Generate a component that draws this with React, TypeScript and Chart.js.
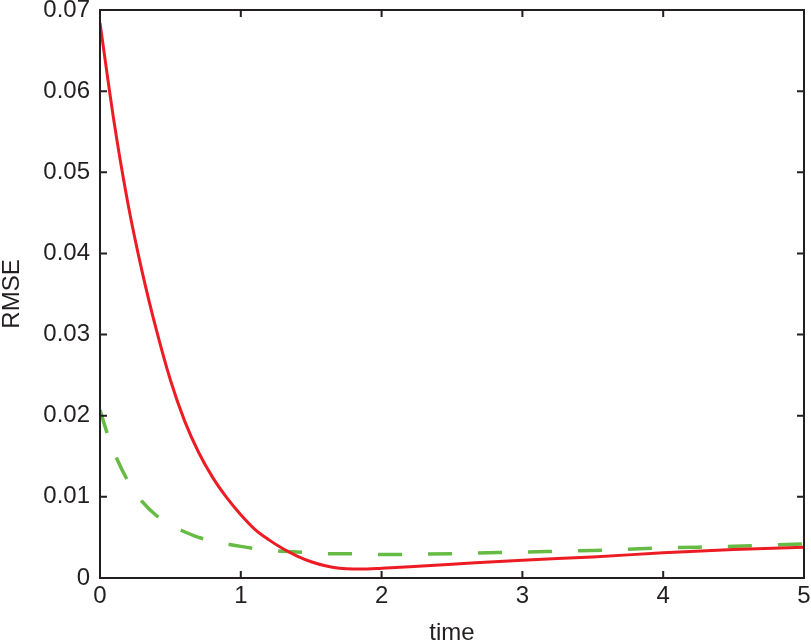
import { useEffect, useRef } from 'react'
import Chart from 'chart.js/auto'

const RED_T = [0, 0.1, 0.2, 0.3, 0.4, 0.5, 0.6, 0.7, 0.8, 0.9, 1.0, 1.1, 1.2, 1.3, 1.4, 1.5, 1.6, 1.7, 1.8, 1.9, 2.0, 2.2, 2.5, 3.0, 3.5, 4.0, 4.5, 5.0]
const RED_V = [0.0684, 0.0562, 0.0460, 0.0377, 0.0306, 0.0244, 0.0194, 0.0155, 0.0124, 0.0099, 0.0078, 0.0060, 0.0047, 0.0036, 0.0027, 0.0020, 0.0015, 0.0012, 0.0011, 0.0011, 0.0012, 0.0014, 0.0017, 0.0022, 0.0026, 0.0031, 0.0035, 0.0038]

const GREEN_T = [0, 0.05, 0.1, 0.2, 0.3, 0.4, 0.5, 0.6, 0.7, 0.8, 0.9, 1.0, 1.2, 1.4, 1.6, 1.8, 2.0, 2.5, 3.0, 3.5, 4.0, 4.5, 5.0]
const GREEN_V = [0.0207, 0.0179, 0.0155, 0.0119, 0.0094, 0.0077, 0.0065, 0.0057, 0.0050, 0.0046, 0.0042, 0.0039, 0.0034, 0.0032, 0.0030, 0.0030, 0.0029, 0.0030, 0.0032, 0.0034, 0.0037, 0.0039, 0.0042]

const X_TICKS = [0, 1, 2, 3, 4, 5]
const Y_TICKS = [0, 0.01, 0.02, 0.03, 0.04, 0.05, 0.06, 0.07]

const AXIS_COLOR = '#231f20'
const FONT = 'Liberation Sans, Arial, Helvetica, sans-serif'

// matlab style box with inward ticks on all four sides
const boxPlugin = {
  id: 'matlabBox',
  afterDraw(chart: any) {
    const { ctx, chartArea: a, scales } = chart
    const len = 7
    ctx.save()
    ctx.strokeStyle = AXIS_COLOR
    ctx.lineWidth = 2
    ctx.beginPath()
    X_TICKS.forEach(v => {
      const x = scales.x.getPixelForValue(v)
      ctx.moveTo(x, a.bottom)
      ctx.lineTo(x, a.bottom - len)
      ctx.moveTo(x, a.top)
      ctx.lineTo(x, a.top + len)
    })
    Y_TICKS.forEach(v => {
      const y = scales.y.getPixelForValue(v)
      ctx.moveTo(a.left, y)
      ctx.lineTo(a.left + len, y)
      ctx.moveTo(a.right, y)
      ctx.lineTo(a.right - len, y)
    })
    ctx.stroke()
    ctx.strokeRect(a.left, a.top, a.right - a.left, a.bottom - a.top)
    ctx.restore()
  },
}

export default function App() {
  const chartRef = useRef<HTMLCanvasElement>(null)
  const chartInstance = useRef<Chart | null>(null)

  useEffect(() => {
    if (!chartRef.current) return
    if (chartInstance.current) chartInstance.current.destroy()

    chartInstance.current = new Chart(chartRef.current, {
      type: 'line',
      data: {
        datasets: [
          {
            label: 'red',
            data: RED_T.map((t, i) => ({ x: t, y: RED_V[i] })),
            borderColor: '#ed1c24',
            borderWidth: 3,
            pointRadius: 0,
            cubicInterpolationMode: 'monotone',
          },
          {
            label: 'green',
            data: GREEN_T.map((t, i) => ({ x: t, y: GREEN_V[i] })),
            borderColor: '#66bb44',
            borderWidth: 3.5,
            borderDash: [24, 26],
            pointRadius: 0,
            cubicInterpolationMode: 'monotone',
          },
        ],
      },
      options: {
        responsive: false,
        animation: false,
        layout: { padding: { left: 0, right: 7, top: 10, bottom: 0 } },
        plugins: { legend: { display: false }, tooltip: { enabled: false } },
        scales: {
          x: {
            type: 'linear',
            min: 0,
            max: 5,
            grid: { display: false, drawTicks: false },
            border: { display: false },
            afterBuildTicks: (s: any) => { s.ticks = X_TICKS.map(v => ({ value: v })) },
            afterFit: (s: any) => { s.height = 65; s.paddingLeft = 0; s.paddingRight = 0 },
            ticks: { color: AXIS_COLOR, padding: 4, font: { family: FONT, size: 24 }, maxRotation: 0 },
            title: { display: true, text: 'time', color: AXIS_COLOR, padding: { top: 0, bottom: -2 }, font: { family: FONT, size: 24, lineHeight: 1 } },
          },
          y: {
            type: 'linear',
            min: 0,
            max: 0.07,
            grid: { display: false, drawTicks: false },
            border: { display: false },
            afterBuildTicks: (s: any) => { s.ticks = Y_TICKS.map(v => ({ value: v })) },
            afterFit: (s: any) => { s.width = 100; s.paddingTop = 0; s.paddingBottom = 0 },
            ticks: {
              color: AXIS_COLOR,
              padding: 10,
              font: { family: FONT, size: 24 },
              callback: (v: any) => (v === 0 ? '0' : Number(v).toFixed(2)),
            },
            title: { display: true, text: 'RMSE', color: AXIS_COLOR, padding: 0, font: { family: FONT, size: 24, lineHeight: 1 } },
          },
        },
      },
      plugins: [boxPlugin],
    })

    return () => { chartInstance.current?.destroy() }
  }, [])

  return (
    <div style={{ position: 'fixed', left: 0, top: 0, width: 811, height: 643, background: '#fff' }}>
      <canvas ref={chartRef} width={811} height={643} style={{ display: 'block' }} />
    </div>
  )
}
